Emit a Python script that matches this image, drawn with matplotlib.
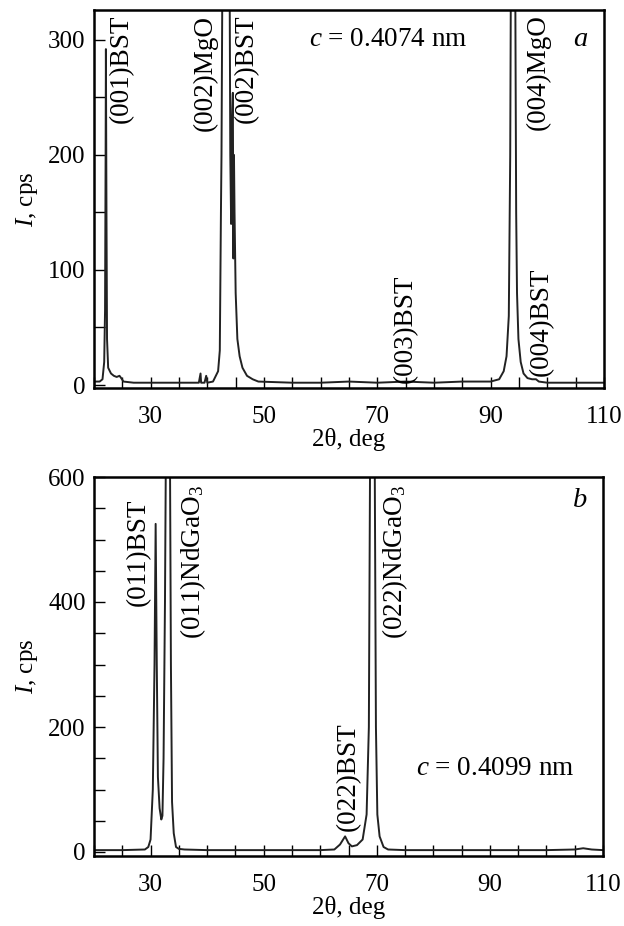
import matplotlib
matplotlib.use("Agg")
import matplotlib.pyplot as plt
from matplotlib.ticker import MultipleLocator, FixedLocator

plt.rcParams['font.family'] = ['Liberation Serif', 'DejaVu Serif']
plt.rcParams['mathtext.fontset'] = 'custom'
plt.rcParams['mathtext.rm'] = 'Liberation Serif'
plt.rcParams['mathtext.it'] = 'Liberation Serif:italic'

# Panel a data
two_theta_a = [20.0, 21.0, 21.5, 21.8, 21.95, 22.05, 22.1, 22.2, 22.3, 22.5, 23.0, 23.5,
               24.0, 24.5, 24.8, 25.2, 27.0, 30.0, 35.0, 38.5, 38.8, 38.9, 39.5, 39.8,
               40.0, 41.0, 41.5, 41.9, 42.2, 42.4, 42.5, 42.7, 43.9, 44.05, 44.2, 44.35,
               44.5, 44.6, 44.7, 44.8, 45.0, 45.3, 45.7, 46.2, 47.0, 48.0, 49.0, 55.0,
               60.0, 65.0, 70.0, 75.0, 80.0, 85.0, 90.0, 91.5, 92.3, 92.8, 93.2, 93.45,
               93.6, 94.3, 94.5, 94.65, 94.9, 95.3, 95.8, 96.5, 97.3, 98.0, 98.5, 100.0,
               105.0, 110.0]
intensity_a = [3, 3, 5, 20, 65, 200, 292, 150, 40, 15, 10, 8,
               7, 8, 6, 3, 2, 2, 2, 2, 10, 2, 2, 8,
               2, 3, 8, 12, 30, 150, 200, 400, 400, 200, 140, 230,
               254, 110, 200, 150, 80, 40, 25, 15, 8, 5, 3, 2,
               2, 3, 2, 3, 2, 3, 3, 5, 12, 25, 60, 200,
               400, 400, 150, 80, 40, 20, 10, 6, 5, 5, 3, 2,
               2, 2]

# Panel b data
two_theta_b = [20.0, 25.0, 29.0, 29.6, 30.0, 30.4, 30.7, 30.9, 31.1, 31.3, 31.6, 31.9,
               32.1, 32.3, 32.55, 32.75, 33.4, 33.6, 33.8, 34.1, 34.5, 35.0, 36.0, 40.0,
               50.0, 60.0, 62.5, 63.5, 64.4, 65.0, 65.6, 66.5, 67.5, 68.2, 68.6, 68.85,
               69.6, 69.85, 70.1, 70.5, 71.2, 72.0, 75.0, 80.0, 90.0, 100.0, 105.0, 106.5,
               108.0, 110.0]
intensity_b = [3, 3, 4, 8, 20, 100, 300, 525, 300, 120, 70, 52,
               58, 150, 400, 700, 700, 300, 80, 30, 8, 5, 4, 3,
               3, 3, 4, 12, 25, 14, 9, 11, 20, 60, 200, 700,
               700, 200, 60, 25, 8, 4, 3, 3, 3, 3, 4, 6,
               4, 3]

x_ticks = [30, 50, 70, 90, 110]
y_ticks_a = [0, 100, 200, 300]
y_ticks_b = [0, 200, 400, 600]

labels_a = [("(001)BST", 24.9, 322, 'top'), ("(002)MgO", 39.6, 322, 'top'),
            ("(002)BST", 46.9, 322, 'top'), ("(003)BST", 74.9, 2, 'bottom'),
            ("(004)MgO", 98.4, 322, 'top'), ("(004)BST", 98.9, 8, 'bottom')]
labels_b = [("(011)BST", 27.8, 566, 'top'), ("(011)NdGaO$_3$", 37.6, 588, 'top'),
            ("(022)BST", 64.9, 34, 'bottom'), ("(022)NdGaO$_3$", 73.2, 588, 'top')]

W, H = 624, 926
fig = plt.figure(figsize=(W / 100, H / 100), dpi=100)
ax_a = fig.add_axes([94 / W, 1 - 388 / H, 510 / W, 378 / H])
ax_b = fig.add_axes([94 / W, 1 - 856 / H, 509 / W, 379 / H])

FS = 18
LFS = 19.5
for ax, x, y, yt, ylim, labels in [
        (ax_a, two_theta_a, intensity_a, y_ticks_a, (-2.6, 326), labels_a),
        (ax_b, two_theta_b, intensity_b, y_ticks_b, (-6.4, 600), labels_b)]:
    ax.plot(x, y, color='#222222', lw=1.4)
    ax.set_xlim(20, 110)
    ax.set_ylim(*ylim)
    ax.xaxis.set_major_locator(FixedLocator(x_ticks))
    ax.xaxis.set_minor_locator(MultipleLocator(5))
    ax.yaxis.set_major_locator(FixedLocator(yt))
    ax.yaxis.set_minor_locator(MultipleLocator(50))
    ax.tick_params(which='both', direction='in', length=8, width=1.0,
                   top=False, right=False, labelsize=FS)
    ax.tick_params(axis='x', which='both', pad=13)
    ax.tick_params(axis='y', which='both', pad=6)
    for s in ax.spines.values():
        s.set_linewidth(1.8)
    ax.set_xlabel("2θ, deg", fontsize=FS, labelpad=0)
    ax.set_ylabel("$I$, cps", fontsize=FS, labelpad=6)
    for txt, lx, ly, va in labels:
        ax.text(lx, ly, txt, rotation=90, ha='center', va=va, fontsize=LFS)

ax_a.text(58.0, 300, "$c$ = 0.4074 nm", fontsize=LFS, ha='left', va='center')
ax_a.text(105.8, 300, "a", fontsize=LFS + 1, style='italic', ha='center', va='center')
ax_b.text(77.0, 134, "$c$ = 0.4099 nm", fontsize=LFS, ha='left', va='center')
ax_b.text(105.9, 563, "b", fontsize=LFS + 1, style='italic', ha='center', va='center')

fig.savefig("out.png", dpi=100)
